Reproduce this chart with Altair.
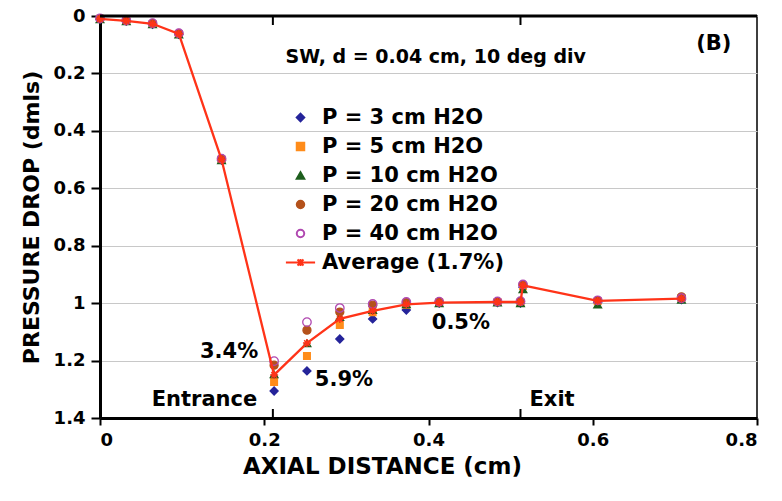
import altair as alt
import pandas as pd

# ---------------- data ----------------
x_pos = [0.0, 0.032, 0.064, 0.096, 0.148, 0.212, 0.252, 0.292, 0.332, 0.373,
         0.413, 0.484, 0.512, 0.515, 0.606, 0.708]
p3 = [0.012, 0.018, 0.029, 0.064, 0.502, 1.306, 1.236, 1.125, 1.055, 1.024,
      1.000, 0.998, 1.000, 0.945, 0.998, 0.988]
p5 = [0.010, 0.017, 0.028, 0.063, 0.500, 1.275, 1.184, 1.076, 1.032, 1.006,
      0.997, 0.996, 0.998, 0.940, 0.993, 0.982]
p10 = [0.011, 0.018, 0.029, 0.064, 0.502, 1.248, 1.140, 1.048, 1.024, 1.004,
       1.000, 0.998, 1.000, 0.952, 1.005, 0.988]
p20 = [0.009, 0.016, 0.026, 0.061, 0.498, 1.216, 1.094, 1.031, 1.007, 0.998,
       0.996, 0.995, 0.994, 0.936, 0.991, 0.978]
p40 = [0.008, 0.015, 0.025, 0.060, 0.497, 1.202, 1.066, 1.017, 1.003, 0.996,
       0.995, 0.994, 0.993, 0.935, 0.990, 0.983]
avg = [0.010, 0.017, 0.027, 0.062, 0.500, 1.250, 1.139, 1.055, 1.027, 1.004,
       0.998, 0.996, 0.996, 0.938, 0.992, 0.984]

series_names = ["P = 3 cm H2O", "P = 5 cm H2O", "P = 10 cm H2O",
                "P = 20 cm H2O", "P = 40 cm H2O", "Average (1.7%)"]
series_values = [p3, p5, p10, p20, p40]

title_text = ["SW, d = 0.04 cm, 10 deg div"]
title_x = [0.226]
title_y = [0.143]

ann_text = ["(B)", "3.4%", "5.9%", "0.5%", "Entrance", "Exit"]
ann_x = [0.726, 0.1217, 0.2616, 0.404, 0.063, 0.523]
ann_y = [0.098, 1.17, 1.268, 1.069, 1.337, 1.337]

marker_x = [0.2105, 0.512]  # entrance / exit
x_ticks = [0, 0.2, 0.4, 0.6, 0.8]
y_ticks = [0, 0.2, 0.4, 0.6, 0.8, 1.0, 1.2, 1.4]

# ---------------- tables ----------------
marker_area = {"P = 3 cm H2O": 64, "P = 5 cm H2O": 45, "P = 10 cm H2O": 60,
               "P = 20 cm H2O": 64, "P = 40 cm H2O": 72}
rows = []
for name, vals in zip(series_names[:5], series_values):
    for xv, yv in zip(x_pos, vals):
        rows.append({"x": xv, "y": yv, "series": name, "sz": marker_area[name]})
pts = pd.DataFrame(rows)
avg_df = pd.DataFrame({"x": x_pos, "y": avg})
ann_df = pd.DataFrame({"text": ann_text, "x": ann_x, "y": ann_y})
title_df = pd.DataFrame({"text": title_text, "x": title_x, "y": title_y})
mark_df = pd.DataFrame({"x": marker_x})
frame_df = pd.DataFrame({"x": [0.0], "x2": [0.8], "y": [0.0]})

RED = "#FF3318"
stroke_range = ["#25249A", "#FF8C1A", "#1D5E1D", "#B4521B", "#B048B0", RED]
fill_range = ["#25249A", "#FF8C1A", "#1D5E1D", "#B4521B", "transparent", "transparent"]
avg_legend_path = ("M-3.9,0L3.9,0M-0.8,-0.8L0.8,0.8M-0.8,0.8L0.8,-0.8"
                   "M0,-0.95L0,0.95")
shape_range = ["diamond", "square", "triangle-up", "circle", "circle", avg_legend_path]
asterisk = "M-1,0L1,0M0,-1L0,1M-0.7,-0.7L0.7,0.7M-0.7,0.7L0.7,-0.7"

xscale = alt.Scale(domain=[0, 0.8], nice=False)
yscale = alt.Scale(domain=[0, 1.4], reverse=True, nice=False)

legend = alt.Legend(orient="none", legendX=190, legendY=91,
                    labelFontSize=21, labelFont="DejaVu Sans",
                    labelFontWeight="bold", labelColor="black",
                    labelOffset=11, rowPadding=7, padding=0,
                    symbolStrokeWidth=2, symbolSize=56, labelLimit=400)

xaxis = alt.Axis(values=x_ticks, format=".1~f", grid=False,
                 title="AXIAL DISTANCE (cm)", tickSize=7, labelPadding=6,
                 titlePadding=6, titleX=282, titleAlign="center",
                 titleFontSize=23)
yaxis = alt.Axis(values=y_ticks, format=".1~f", grid=True,
                 title="PRESSURE DROP (dmls)", tickSize=9, labelPadding=6,
                 titlePadding=10, titleFontSize=22)

points = alt.Chart(pts).mark_point(filled=True, strokeWidth=1.3, opacity=1).encode(
    x=alt.X("x:Q", scale=xscale, axis=xaxis),
    y=alt.Y("y:Q", scale=yscale, axis=yaxis),
    fill=alt.Fill("series:N", scale=alt.Scale(domain=series_names, range=fill_range),
                  legend=legend, title=None),
    stroke=alt.Stroke("series:N", scale=alt.Scale(domain=series_names, range=stroke_range),
                      legend=legend, title=None),
    shape=alt.Shape("series:N", scale=alt.Scale(domain=series_names, range=shape_range),
                    legend=legend, title=None),
    size=alt.Size("sz:Q", scale=None),
)

avg_line = alt.Chart(avg_df).mark_line(color=RED, strokeWidth=2.3).encode(
    x=alt.X("x:Q", scale=xscale), y=alt.Y("y:Q", scale=yscale))
avg_pts = alt.Chart(avg_df).mark_point(shape=asterisk, size=64, color=RED,
                                       strokeWidth=1.5, filled=False, opacity=1).encode(
    x=alt.X("x:Q", scale=xscale), y=alt.Y("y:Q", scale=yscale))

ann = alt.Chart(ann_df).mark_text(align="left", baseline="middle", fontSize=21,
                                  fontWeight="bold", font="DejaVu Sans",
                                  color="black").encode(
    x=alt.X("x:Q", scale=xscale), y=alt.Y("y:Q", scale=yscale), text="text:N")
title_mark = alt.Chart(title_df).mark_text(align="left", baseline="middle", fontSize=19,
                                           fontWeight="bold", font="DejaVu Sans",
                                           color="black").encode(
    x=alt.X("x:Q", scale=xscale), y=alt.Y("y:Q", scale=yscale), text="text:N")

top_line = alt.Chart(frame_df).mark_rule(color="black", strokeWidth=3).encode(
    x=alt.X("x:Q", scale=xscale), x2="x2:Q", y=alt.Y("y:Q", scale=yscale))

top_ticks = alt.Chart(mark_df).mark_rule(color="black", strokeWidth=2).encode(
    x=alt.X("x:Q", scale=xscale), y=alt.value(0), y2=alt.value(9))
bot_ticks = alt.Chart(mark_df).mark_rule(color="black", strokeWidth=2).encode(
    x=alt.X("x:Q", scale=xscale), y=alt.value(402), y2=alt.value(393))

chart = alt.layer(points, avg_line, avg_pts, ann, title_mark, top_line, top_ticks,
                  bot_ticks).properties(
    width=657, height=402,
    autosize=alt.AutoSizeParams(type="none"),
    padding={"left": 100, "top": 16, "right": 25, "bottom": 83},
    background="white",
).configure_view(stroke="black", strokeWidth=1.5).configure_axis(
    labelFont="DejaVu Sans", titleFont="DejaVu Sans",
    labelFontSize=18,
    labelFontWeight="bold", titleFontWeight="bold",
    labelColor="black", titleColor="black",
    domainColor="black", domainWidth=3, tickColor="black", tickWidth=2,
    gridColor="#C8C8C8", gridWidth=1,
)

chart.save("out.html", embed_options={"renderer": "svg", "actions": False})
